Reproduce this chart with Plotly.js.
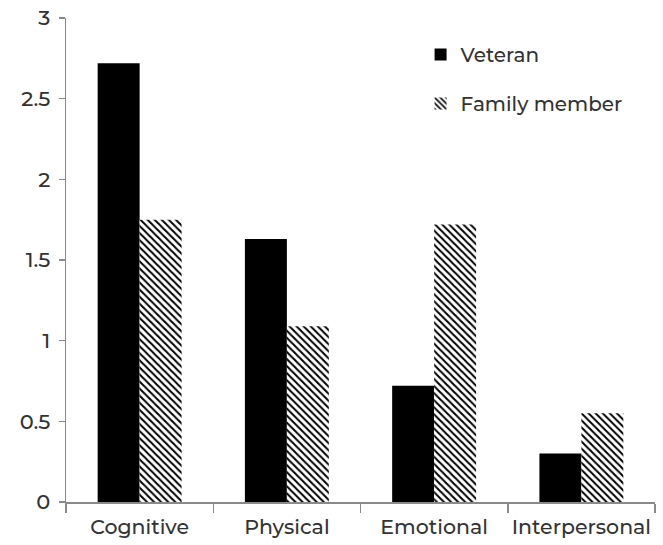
<!DOCTYPE html>
<html>
<head>
<meta charset="utf-8">
<script src="https://cdn.plot.ly/plotly-3.0.1.min.js"></script>
<style>html,body{margin:0;padding:0;background:#fff;}#chart{width:663px;height:545px;}</style>
</head>
<body>
<div id="chart"></div>
<script>
const categories = ["Cognitive", "Physical", "Emotional", "Interpersonal"];
const veteran = [2.72, 1.63, 0.72, 0.30];
const familyMember = [1.75, 1.09, 1.72, 0.55];
const yTicks = [0, 0.5, 1, 1.5, 2, 2.5, 3];
const yTickText = ["0", "0.5", "1", "1.5", "2", "2.5", "3"];

const textColor = "#333333";
const fontFam = "Montserrat, Lato, 'Open Sans', sans-serif";

const data = [
  {
    type: "bar", name: "Veteran", x: categories, y: veteran,
    legendgroup: "a",
    marker: {color: "#000000", line: {width: 0}}
  },
  {
    type: "bar", name: "Family member", x: categories, y: familyMember,
    legendgroup: "b",
    marker: {color: "#ffffff", line: {width: 0},
      pattern: {shape: "\\", fgcolor: "#000000", bgcolor: "#ffffff", size: 5, solidity: 0.4}}
  }
];

const layout = {
  width: 663, height: 545,
  margin: {l: 66, r: 8, t: 18, b: 43},
  paper_bgcolor: "#ffffff", plot_bgcolor: "#ffffff",
  barmode: "group", bargap: 0.43, bargroupgap: 0,
  font: {family: fontFam, color: textColor, size: 20, weight: 500},
  showlegend: true,
  legend: {x: 0.602, y: 0.965, xanchor: "left", yanchor: "top",
    font: {size: 20, color: textColor, weight: 500}, tracegroupgap: 20, traceorder: "grouped",
    bgcolor: "rgba(0,0,0,0)"},
  xaxis: {
    type: "category", showgrid: false, zeroline: false,
    showline: true, linecolor: "#8a8a8a", linewidth: 1.5,
    ticks: "outside", tickson: "boundaries", ticklen: 9, tickcolor: "#8a8a8a", tickwidth: 1.5,
    tickangle: 0, automargin: false,
    tickfont: {size: 20.5, color: textColor, weight: 500}, ticklabelstandoff: 6
  },
  yaxis: {
    range: [0, 3], tickvals: yTicks, ticktext: yTickText,
    showgrid: false, zeroline: false,
    showline: true, linecolor: "#8a8a8a", linewidth: 1.5,
    ticks: "outside", ticklen: 6, tickcolor: "#8a8a8a", tickwidth: 1.5,
    automargin: false,
    tickfont: {size: 21, color: textColor, weight: 500}, ticklabelstandoff: 4
  }
};

Plotly.newPlot("chart", data, layout, {displayModeBar: false, staticPlot: true});
</script>
</body>
</html>
